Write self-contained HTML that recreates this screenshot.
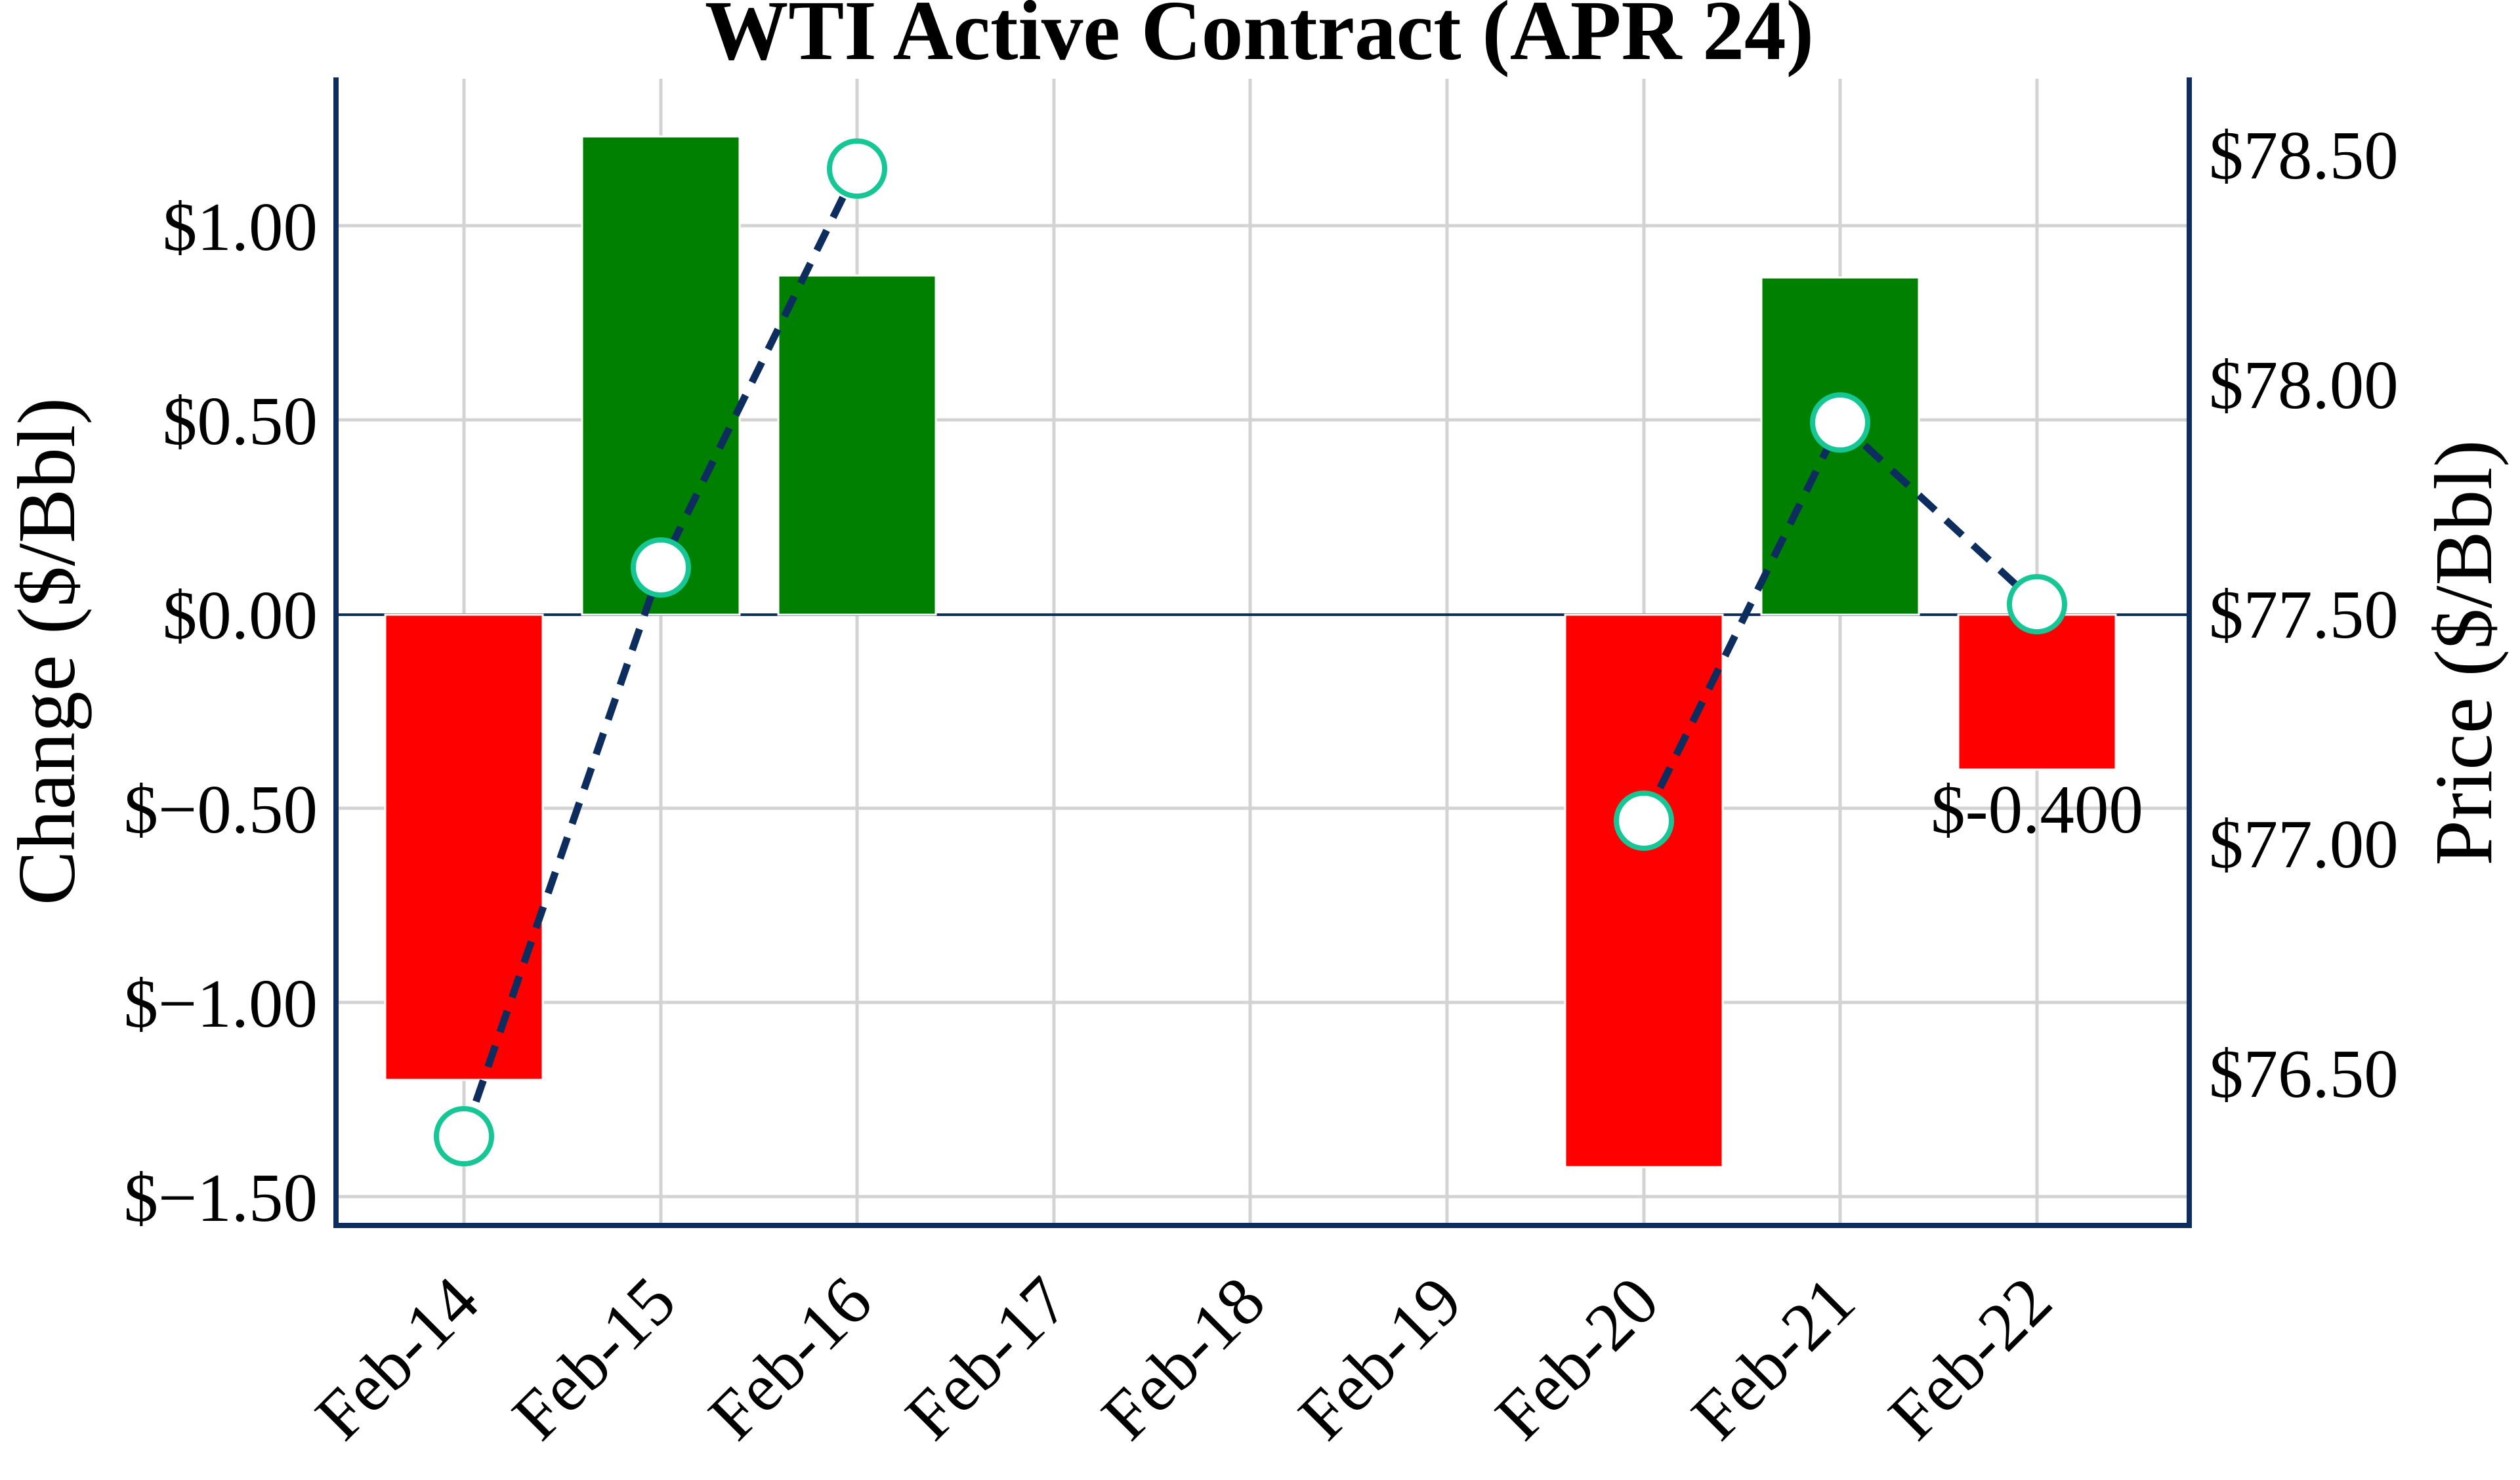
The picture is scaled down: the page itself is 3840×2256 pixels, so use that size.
<!DOCTYPE html>
<html><head><meta charset="utf-8"><style>html,body{margin:0;padding:0;background:#fff}svg{display:block}</style></head>
<body>
<svg width="3840" height="2256" viewBox="0 0 3840 2256" xmlns="http://www.w3.org/2000/svg" font-family="'Liberation Serif', serif">
<rect width="3840" height="2256" fill="#fff"/>
<text x="1919" y="90" text-anchor="middle" font-size="130" font-weight="bold" textLength="1690" lengthAdjust="spacingAndGlyphs">WTI Active Contract (APR 24)</text>
<g stroke="#d3d3d3" stroke-width="5">
<line x1="516" y1="344" x2="3336" y2="344"/>
<line x1="516" y1="640" x2="3336" y2="640"/>
<line x1="516" y1="1232" x2="3336" y2="1232"/>
<line x1="516" y1="1528" x2="3336" y2="1528"/>
<line x1="516" y1="1824" x2="3336" y2="1824"/>
<line x1="707" y1="120" x2="707" y2="1866"/>
<line x1="1007" y1="120" x2="1007" y2="1866"/>
<line x1="1306" y1="120" x2="1306" y2="1866"/>
<line x1="1606" y1="120" x2="1606" y2="1866"/>
<line x1="1905" y1="120" x2="1905" y2="1866"/>
<line x1="2205" y1="120" x2="2205" y2="1866"/>
<line x1="2505" y1="120" x2="2505" y2="1866"/>
<line x1="2804" y1="120" x2="2804" y2="1866"/>
<line x1="3104" y1="120" x2="3104" y2="1866"/>
</g>
<line x1="516" y1="937" x2="3336" y2="937" stroke="#0d2d5e" stroke-width="4"/>
<g stroke="#fff" stroke-width="3">
<rect x="587" y="937" width="240" height="709" fill="#ff0000"/>
<rect x="887" y="208" width="240" height="729" fill="#008000"/>
<rect x="1186" y="420" width="240" height="517" fill="#008000"/>
<rect x="2385" y="937" width="240" height="842" fill="#ff0000"/>
<rect x="2684" y="423" width="240" height="514" fill="#008000"/>
<rect x="2984" y="937" width="240" height="236" fill="#ff0000"/>
</g>
<g fill="none" stroke="#0d2d5e" stroke-width="11" stroke-dasharray="34,22">
<polyline points="707,1732 1007,865 1306,257"/>
<polyline points="2505,1251 2804,644 3104,921"/>
</g>
<g fill="#fff" stroke="#16c795" stroke-width="8">
<circle cx="707" cy="1732" r="42"/>
<circle cx="1007" cy="865" r="42"/>
<circle cx="1306" cy="257" r="42"/>
<circle cx="2505" cy="1251" r="42"/>
<circle cx="2804" cy="644" r="42"/>
<circle cx="3104" cy="921" r="42"/>
</g>
<text x="3104" y="1269" text-anchor="middle" font-size="105">$-0.400</text>
<g fill="none" stroke="#0d2d5e" stroke-width="8">
<polyline points="512,118 512,1868 3336,1868 3336,118"/>
</g>
<g font-size="105" text-anchor="end">
<text x="484" y="381">$1.00</text>
<text x="484" y="677">$0.50</text>
<text x="484" y="973">$0.00</text>
<text x="484" y="1269">$−0.50</text>
<text x="484" y="1565">$−1.00</text>
<text x="484" y="1861">$−1.50</text>
</g>
<g font-size="105">
<text x="3366" y="272">$78.50</text>
<text x="3366" y="622">$78.00</text>
<text x="3366" y="972">$77.50</text>
<text x="3366" y="1322">$77.00</text>
<text x="3366" y="1672">$76.50</text>
</g>
<text transform="translate(113,993) rotate(-90)" text-anchor="middle" font-size="125">Change ($/Bbl)</text>
<text transform="translate(3796,995) rotate(-90)" text-anchor="middle" font-size="125">Price ($/Bbl)</text>
<g font-size="105" text-anchor="end">
<text transform="translate(735,1990) rotate(-45)">Feb-14</text>
<text transform="translate(1035,1990) rotate(-45)">Feb-15</text>
<text transform="translate(1334,1990) rotate(-45)">Feb-16</text>
<text transform="translate(1634,1990) rotate(-45)">Feb-17</text>
<text transform="translate(1933,1990) rotate(-45)">Feb-18</text>
<text transform="translate(2233,1990) rotate(-45)">Feb-19</text>
<text transform="translate(2533,1990) rotate(-45)">Feb-20</text>
<text transform="translate(2832,1990) rotate(-45)">Feb-21</text>
<text transform="translate(3132,1990) rotate(-45)">Feb-22</text>
</g>
</svg>
</body></html>
